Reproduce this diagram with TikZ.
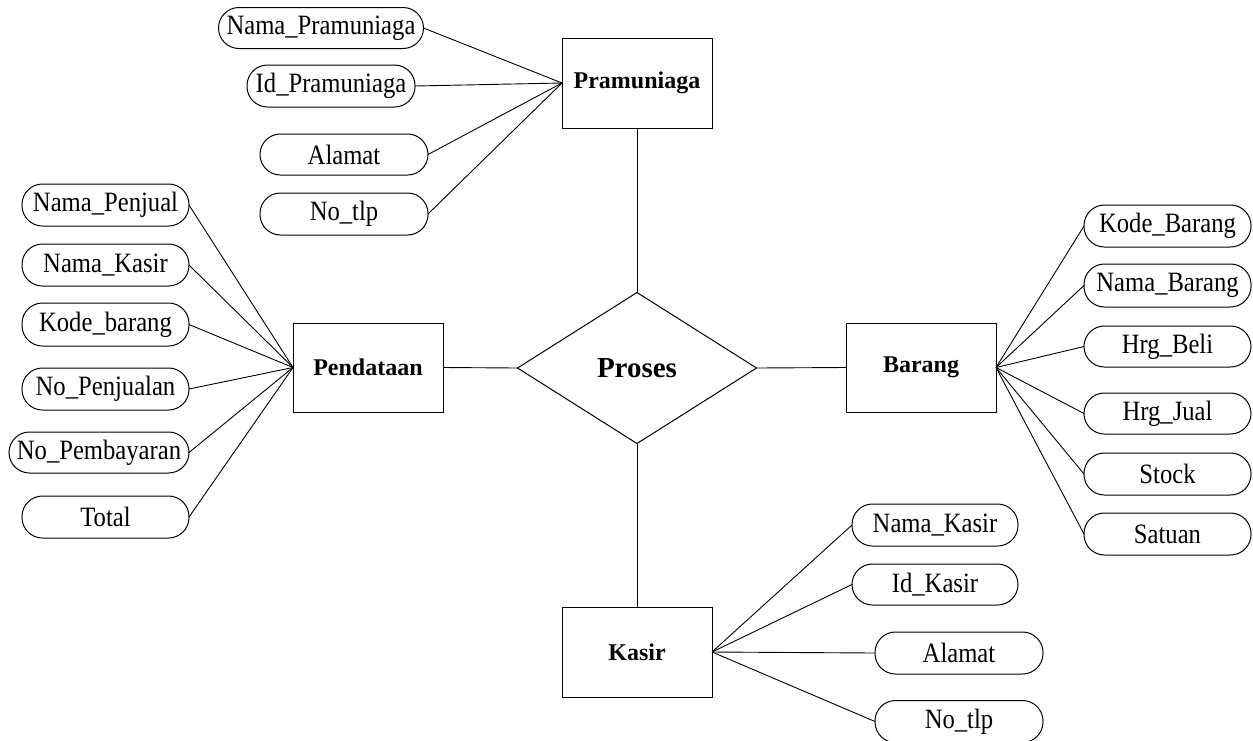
\documentclass[tikz,border=0pt]{standalone}
\usepackage{fontspec}
\setmainfont{Liberation Serif}
% slightly narrowed face for the attribute labels
\newfontfamily\attrfont[FakeStretch=0.88]{Liberation Serif}
\usetikzlibrary{shapes.geometric}
\begin{document}
\begin{tikzpicture}[x=1pt,y=-1pt,
  line width=1pt,
  entity/.style={draw, rectangle, minimum width=150pt, minimum height=90pt,
    inner sep=0pt, outer sep=0pt, font=\fontsize{24}{28}\selectfont\bfseries},
  attr/.style={draw, rectangle, rounded corners=20.5pt, minimum height=42pt,
    minimum width=167pt, inner sep=0pt, outer sep=0pt,
    font=\attrfont\fontsize{28}{30}\selectfont},
  rel/.style={draw, diamond, minimum width=239pt, minimum height=151pt,
    inner sep=0pt, outer sep=0pt, font=\fontsize{29}{32}\selectfont\bfseries},
  link/.style={draw, line width=0.9pt}]
\useasboundingbox (0,0) rectangle (1253,740);
\clip (0,0) rectangle (1253,740);
\fill[white] (0,0) rectangle (1253,740);

% relationship and entities
\node[rel] (proses) at (637,368) {Proses};
\node[entity] (pram) at (637,83) {Pramuniaga};
\node[entity, minimum height=89pt] (pend) at (368,367.5) {Pendataan};
\node[entity, minimum height=89pt] (brg) at (921,367.5) {Barang};
\node[entity] (ksr) at (637,652) {Kasir};

\draw[link] (pram.south) -- (proses.north);
\draw[link] (pend.east) -- (proses.west);
\draw[link] (brg.west) -- (proses.east);
\draw[link] (ksr.north) -- (proses.south);

% Pramuniaga attributes
\node[attr, minimum width=205pt, minimum height=41pt] (pa1) at (321,28) {Nama\_Pramuniaga};
\node[attr, minimum width=168pt] (pa2) at (331,86) {Id\_Pramuniaga};
\node[attr, minimum width=168pt, minimum height=41pt] (pa3) at (344,154.5) {Alamat};
\node[attr, minimum width=168pt] (pa4) at (344,214) {No\_tlp};
\foreach \a in {pa1,pa2,pa3,pa4} \draw[link] (\a.east) -- (pram.west);

% Pendataan attributes
\node[attr] (da1) at (105.5,205) {Nama\_Penjual};
\node[attr] (da2) at (105.5,265) {Nama\_Kasir};
\node[attr, minimum height=43pt] (da3) at (105.5,324.5) {Kode\_barang};
\node[attr] (da4) at (105.5,389) {No\_Penjualan};
\node[attr, minimum width=180pt, minimum height=41pt] (da5) at (99,452.5) {No\_Pembayaran};
\node[attr] (da6) at (105.5,517) {Total};
\foreach \a in {da1,da2,da3,da4,da5,da6} \draw[link] (\a.east) -- (pend.west);

% Barang attributes
\node[attr] (ba1) at (1167.5,226) {Kode\_Barang};
\node[attr, minimum height=43pt] (ba2) at (1167.5,285.5) {Nama\_Barang};
\node[attr, minimum height=41pt] (ba3) at (1167.5,346.5) {Hrg\_Beli};
\node[attr, minimum height=41pt] (ba4) at (1167.5,413.5) {Hrg\_Jual};
\node[attr] (ba5) at (1167.5,474) {Stock};
\node[attr] (ba6) at (1167.5,534) {Satuan};
\foreach \a in {ba1,ba2,ba3,ba4,ba5,ba6} \draw[link] (brg.east) -- (\a.west);

% Kasir attributes
\node[attr, minimum width=166pt] (ka1) at (935,525) {Nama\_Kasir};
\node[attr, minimum width=166pt, minimum height=41pt] (ka2) at (935,584.5) {Id\_Kasir};
\node[attr, minimum width=168pt] (ka3) at (959,653) {Alamat};
\node[attr, minimum width=168pt] (ka4) at (959,721.5) {No\_tlp};
\foreach \a in {ka1,ka2,ka3,ka4} \draw[link] (ksr.east) -- (\a.west);
\end{tikzpicture}
\end{document}
